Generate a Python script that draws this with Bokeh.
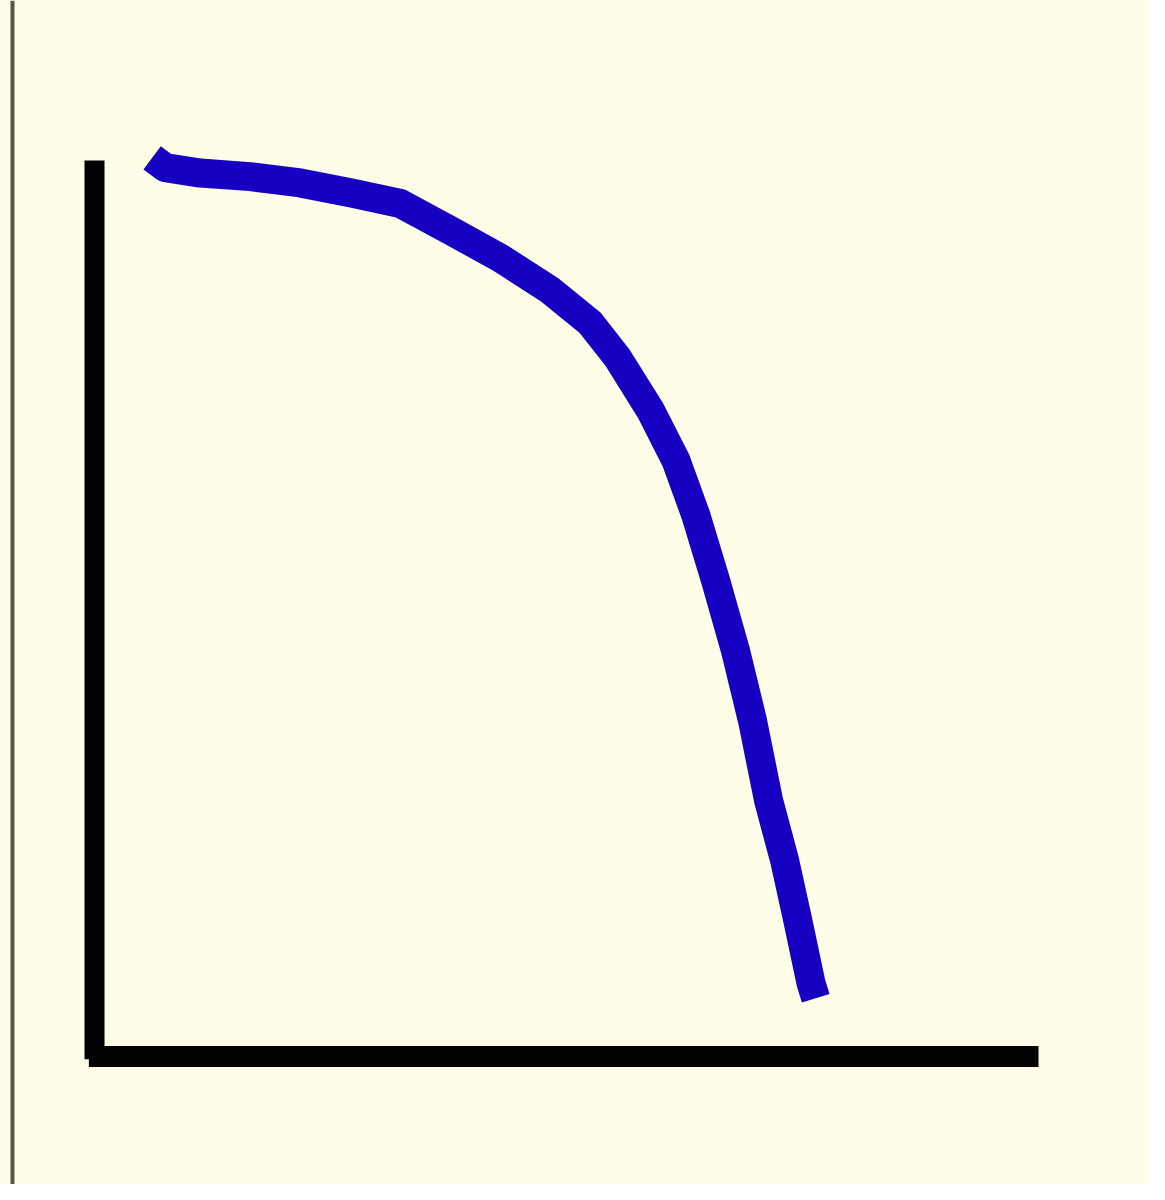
from bokeh.plotting import figure
from bokeh.models import Range1d, Span
from bokeh.embed import file_html
from bokeh.resources import INLINE

# Curve (axis units: both axes run 0..10)
curve_x = [0.61, 0.75, 1.12, 1.65, 2.18, 2.71, 3.24, 3.77, 4.30, 4.83, 5.25, 5.54,
           5.89, 6.16, 6.37, 6.58, 6.79, 6.97, 7.14, 7.31, 7.45, 7.59, 7.64]
curve_y = [10.03, 9.92, 9.86, 9.82, 9.75, 9.64, 9.52, 9.22, 8.91, 8.55, 8.19, 7.80,
           7.21, 6.65, 6.04, 5.31, 4.53, 3.75, 2.86, 2.19, 1.52, 0.82, 0.65]

# L-shaped axes
yaxis_x = [0, 0]
yaxis_y = [-0.03, 10]
xaxis_x = [-0.06, 10]
xaxis_y = [0, 0]

BG = "#FEFDE8"

p = figure(width=1149, height=1184, output_backend="svg", toolbar_location=None,
           x_range=Range1d(-0.996, 11.176), y_range=Range1d(-1.429, 11.786),
           min_border=0, background_fill_color=BG, border_fill_color=BG)
p.axis.visible = False
p.grid.visible = False
p.outline_line_color = None

p.add_layout(Span(location=-0.869, dimension="height", line_color="#5a5448", line_width=4))

p.line(yaxis_x, yaxis_y, line_color="black", line_width=20, line_cap="butt")
p.line(xaxis_x, xaxis_y, line_color="black", line_width=21, line_cap="butt")

p.line(curve_x, curve_y, line_color="#1600c2", line_width=29, line_cap="butt", line_join="round")

open("out.html", "w").write(file_html(p, INLINE))
